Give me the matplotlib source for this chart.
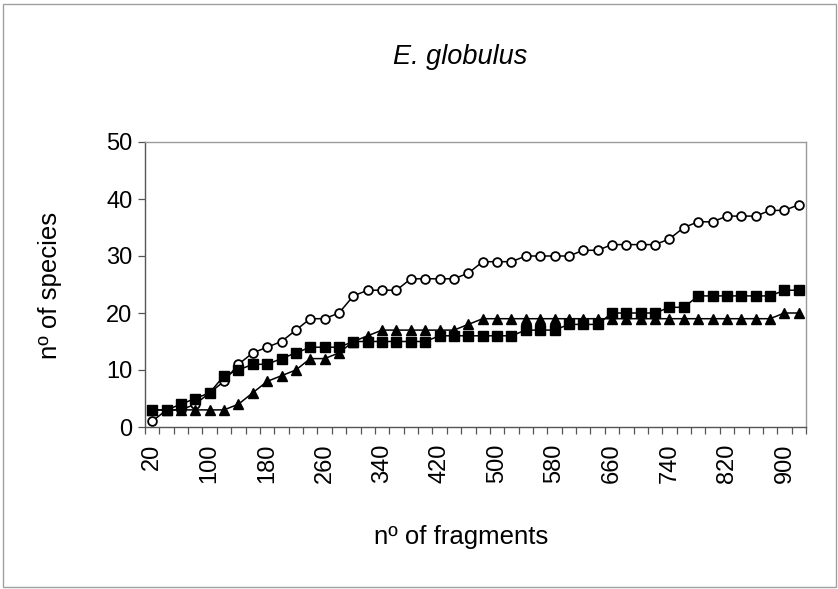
import matplotlib
matplotlib.use("Agg")
import matplotlib.pyplot as plt
from matplotlib.patches import Rectangle

plt.rcParams["font.family"] = ["Liberation Sans", "DejaVu Sans"]

# data (species accumulation, E. globulus)
fragments = [20, 40, 60, 80, 100, 120, 140, 160, 180, 200,
             220, 240, 260, 280, 300, 320, 340, 360, 380, 400,
             420, 440, 460, 480, 500, 520, 540, 560, 580, 600,
             620, 640, 660, 680, 700, 720, 740, 760, 780, 800,
             820, 840, 860, 880, 900, 920]
circles = [1, 3, 3, 4, 6, 8, 11, 13, 14, 15,
           17, 19, 19, 20, 23, 24, 24, 24, 26, 26,
           26, 26, 27, 29, 29, 29, 30, 30, 30, 30,
           31, 31, 32, 32, 32, 32, 33, 35, 36, 36,
           37, 37, 37, 38, 38, 39]
squares = [3, 3, 4, 5, 6, 9, 10, 11, 11, 12,
           13, 14, 14, 14, 15, 15, 15, 15, 15, 15,
           16, 16, 16, 16, 16, 16, 17, 17, 17, 18,
           18, 18, 20, 20, 20, 20, 21, 21, 23, 23,
           23, 23, 23, 23, 24, 24]
triangles = [3, 3, 3, 3, 3, 3, 4, 6, 8, 9,
             10, 12, 12, 13, 15, 16, 17, 17, 17, 17,
             17, 17, 18, 19, 19, 19, 19, 19, 19, 19,
             19, 19, 19, 19, 19, 19, 19, 19, 19, 19,
             19, 19, 19, 19, 20, 20]
label_ticks = [20, 100, 180, 260, 340, 420, 500, 580, 660, 740, 820, 900]

W, H = 838, 589
fig = plt.figure(figsize=(W / 100, H / 100), dpi=100)
ax = fig.add_axes([145 / W, 1 - 427 / H, 661 / W, 285 / H])

ax.plot(fragments, circles, color="black", lw=1.1, marker="o", ms=6.3,
        mfc="white", mec="black", mew=1.3, zorder=3)
ax.plot(fragments, squares, color="black", lw=1.1, marker="s", ms=6.5,
        mfc="black", mec="black", zorder=4)
ax.plot(fragments, triangles, color="black", lw=1.1, marker="^", ms=7.5,
        mfc="black", mec="black", zorder=5)

ax.set_xlim(10, 930)
ax.set_ylim(0, 50)
ax.set_yticks(range(0, 51, 10))
ax.set_xticks(label_ticks)
ax.set_xticks([f - 10 for f in fragments] + [930], minor=True)
ax.tick_params(axis="x", which="major", length=0, pad=12, labelsize=17,
               labelrotation=90)
ax.tick_params(axis="x", which="minor", length=5, direction="out",
               color="#555555", width=0.9)
ax.tick_params(axis="y", length=5, direction="out", labelsize=17,
               color="#555555", width=0.9, pad=4)
for lab in ax.get_xticklabels():
    lab.set_va("top")

for s in ["top", "right"]:
    ax.spines[s].set_color("#9a9a9a")
    ax.spines[s].set_linewidth(1.0)
for s in ["left", "bottom"]:
    ax.spines[s].set_color("#555555")
    ax.spines[s].set_linewidth(1.0)

fig.text(0.549, 1 - 57 / H, "E. globulus", ha="center", va="center",
         fontsize=19.5, style="italic")
fig.text(0.550, 1 - 537 / H, "nº of fragments", ha="center", va="center",
         fontsize=18.5)
fig.text(0.060, 1 - 285 / H, "nº of species", ha="center", va="center",
         fontsize=18.5, rotation=90)

# thin frame round the whole chart
fig.patches.append(Rectangle((3 / W, 2 / H), 1 - 5 / W, 1 - 6 / H,
                             transform=fig.transFigure, fill=False,
                             edgecolor="#a0a0a0", linewidth=1.0))

fig.savefig("out.png", dpi=100)
